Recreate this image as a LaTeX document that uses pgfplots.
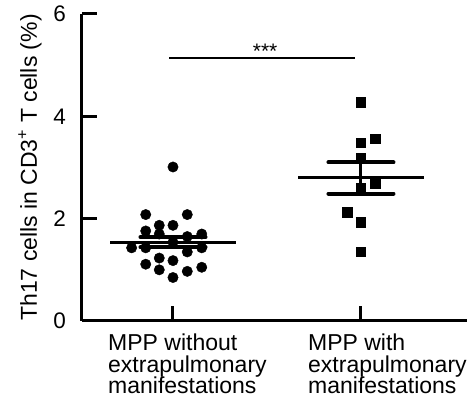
\documentclass[border=0pt]{standalone}
\usepackage{pgfplots}
\pgfplotsset{compat=1.18}
\usepackage{fontspec}
\setmainfont{Liberation Sans}
\begin{document}
\begin{tikzpicture}
\useasboundingbox (-82pt,-77pt) rectangle (392pt,321pt);
\begin{axis}[
 scale only axis, width=385pt, height=307pt,
 xmin=-0.484, xmax=1.564, ymin=0, ymax=6,
 axis x line*=bottom, axis y line*=left,
 axis line style={line width=3pt},
 tick align=inside,
 major tick length=15pt,
 every tick/.style={black, line width=3pt},
 ytick={0,2,4,6},
 xtick={0},
 xticklabels={{MPP without\\extrapulmonary\\manifestations}},
 extra x ticks={1},
 extra x tick labels={{MPP with\\extrapulmonary\\manifestations}},
 extra x tick style={xticklabel style={xshift=12pt}},
 xticklabel style={font=\fontsize{23}{21.5}\selectfont, align=left, anchor=north west, inner sep=0pt, xshift=-65pt, yshift=-13pt},
 yticklabel style={font=\fontsize{22.5}{24}\selectfont, inner sep=0pt, xshift=-16pt},
 /pgf/number format/assume math mode=true,
 ylabel={Th17 cells in CD3\textsuperscript{+} T cells (\%)},
 every axis y label/.style={at={(axis description cs:0,0.5)}, rotate=90, anchor=center, yshift=52pt, font=\fontsize{23}{26}\selectfont},
 clip=false,
]
% group 1: MPP without extrapulmonary manifestations
\addplot[only marks, mark=*, mark size=5.2pt, black] coordinates {
(0,3.01)
(-0.145,2.08) (0.076,2.08)
(-0.073,1.87) (0,1.87)
(-0.145,1.76)
(-0.073,1.70) (0.153,1.70) (0.076,1.65)
(0,1.54)
(-0.22,1.43) (-0.145,1.43) (0.153,1.43) (0.076,1.35)
(-0.145,1.11) (-0.073,1.23) (0,1.18)
(-0.073,1.00) (0,0.85) (0.076,0.97) (0.153,1.05)
};
% group 2: MPP with extrapulmonary manifestations
\addplot[only marks, mark=square*, mark size=4.7pt, black] coordinates {
(1,4.28) (1.075,3.56) (1,3.48) (1,3.19) (1.075,2.69) (1,2.60) (0.927,2.13) (1,1.93) (1,1.35)
};
% mean lines
\addplot[line width=3pt, black] coordinates {(-0.335,1.54) (0.335,1.54)};
\addplot[line width=3pt, black] coordinates {(0.665,2.80) (1.335,2.80)};
% SEM
\addplot[line width=3pt, black] coordinates {(0,1.44) (0,1.64)};
\addplot[line width=4pt, black, line cap=round] coordinates {(-0.173,1.64) (0.173,1.64)};
\addplot[line width=4pt, black, line cap=round] coordinates {(-0.173,1.44) (0.173,1.44)};
\addplot[line width=3pt, black] coordinates {(1,2.49) (1,3.10)};
\addplot[line width=4pt, black, line cap=round] coordinates {(0.827,3.10) (1.173,3.10)};
\addplot[line width=4pt, black, line cap=round] coordinates {(0.827,2.49) (1.173,2.49)};
% significance
\addplot[line width=2pt, black] coordinates {(-0.02,5.14) (0.97,5.14)};
\node[font=\fontsize{21}{24}\selectfont, anchor=base, inner sep=0pt] at (axis cs:0.49,5.14) {***};
\end{axis}
\end{tikzpicture}
\end{document}
